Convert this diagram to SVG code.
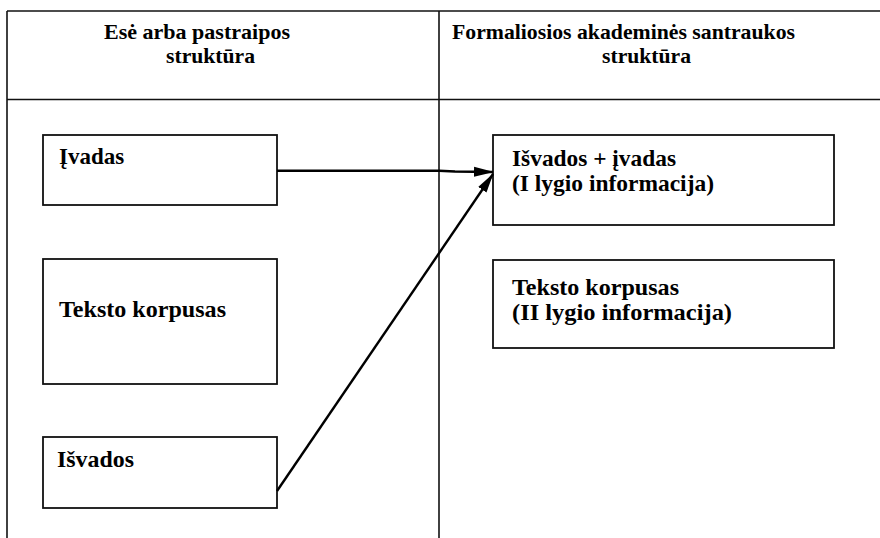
<svg xmlns="http://www.w3.org/2000/svg" width="880" height="538" viewBox="0 0 880 538">
<style>
.t{font-family:"Liberation Serif","Times New Roman",serif;font-weight:bold;font-size:23px;fill:#000}
.h{font-family:"Liberation Serif","Times New Roman",serif;font-weight:bold;font-size:21px;fill:#000}
.b{fill:#fff;stroke:#111;stroke-width:1.8}
.g{stroke:#111;stroke-width:1.6;fill:none}
.c{stroke:#000;stroke-width:2.4;fill:none}
</style>
<defs>
<marker id="ah" viewBox="0 0 20 10" refX="19" refY="5" markerWidth="20" markerHeight="11" markerUnits="userSpaceOnUse" orient="auto">
<path d="M0,0 L20,5 L0,10 z" fill="#000"/>
</marker>
</defs>
<rect width="880" height="538" fill="#fff"/>
<g id="table">
<line class="g" x1="7" y1="11" x2="880" y2="11"/>
<line class="g" x1="7" y1="99.5" x2="880" y2="99.5"/>
<line class="g" x1="7" y1="11" x2="7" y2="538"/>
<line class="g" x1="439" y1="11" x2="439" y2="538"/>
<text class="h" x="104" y="39" textLength="186" lengthAdjust="spacingAndGlyphs">Esė arba pastraipos</text>
<text class="h" x="166" y="63" textLength="89" lengthAdjust="spacingAndGlyphs">struktūra</text>
<text class="h" x="452" y="39" textLength="343" lengthAdjust="spacingAndGlyphs">Formaliosios akademinės santraukos</text>
<text class="h" x="602" y="63" textLength="89" lengthAdjust="spacingAndGlyphs">struktūra</text>
</g>
<g id="n-ivadas">
<rect class="b" x="43" y="135" width="234" height="70"/>
<text class="t" x="59" y="164">Įvadas</text>
</g>
<g id="n-korpusas">
<rect class="b" x="43" y="259" width="234" height="125"/>
<text class="t" x="59" y="317" textLength="167" lengthAdjust="spacingAndGlyphs">Teksto korpusas</text>
</g>
<g id="n-isvados">
<rect class="b" x="43" y="437" width="234" height="71"/>
<text class="t" x="57" y="467" textLength="77" lengthAdjust="spacingAndGlyphs">Išvados</text>
</g>
<g id="n-isv-iv">
<rect class="b" x="493" y="135" width="341" height="90"/>
<text class="t" x="512" y="166" textLength="164" lengthAdjust="spacingAndGlyphs">Išvados + įvadas</text>
<text class="t" x="512" y="191" textLength="202" lengthAdjust="spacingAndGlyphs">(I lygio informacija)</text>
</g>
<g id="n-korpusas2">
<rect class="b" x="493" y="260" width="341" height="88"/>
<text class="t" x="512" y="295" textLength="167" lengthAdjust="spacingAndGlyphs">Teksto korpusas</text>
<text class="t" x="512" y="320" textLength="220" lengthAdjust="spacingAndGlyphs">(II lygio informacija)</text>
</g>
<g id="connectors">
<path class="c" d="M277,170.7 L439,170.7 L455,171.5 L493,172" stroke-width="1.8" marker-end="url(#ah)"/>
<path class="c" d="M277,491 L493,174" marker-end="url(#ah)"/>
</g>
</svg>
